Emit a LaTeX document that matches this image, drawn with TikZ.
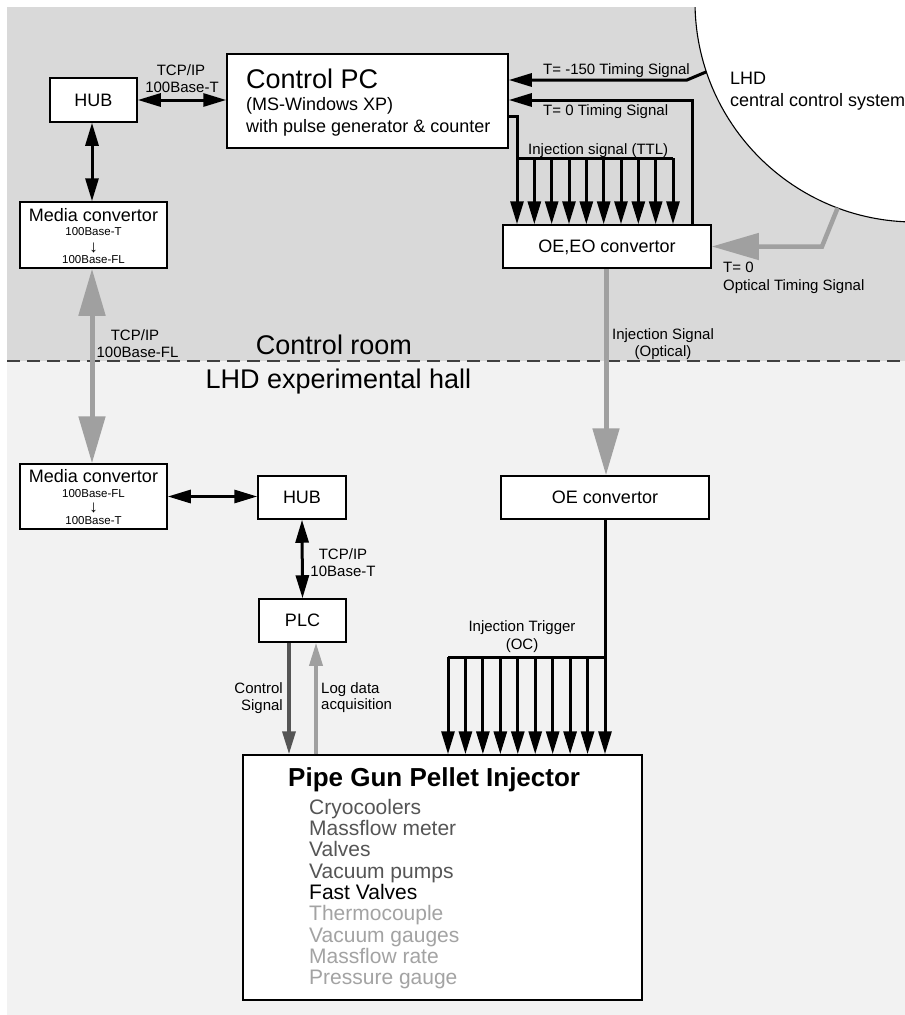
\documentclass[tikz,border=0pt]{standalone}
\usepackage{fontspec}
\setmainfont{Liberation Sans}
\usetikzlibrary{arrows.meta}
\definecolor{topbg}{HTML}{D9D9D9}
\definecolor{botbg}{HTML}{F2F2F2}
\definecolor{optgray}{HTML}{A0A0A0}
\definecolor{darkitem}{HTML}{555555}
\definecolor{lightitem}{HTML}{A3A3A3}
\definecolor{ctrlgray}{HTML}{555555}
\definecolor{dashcol}{HTML}{404040}
\newcommand{\myfs}[1]{\fontsize{#1}{#1}\selectfont}
\begin{document}
\begin{tikzpicture}[x=1pt,y=-1pt,
  box/.style={draw=black,line width=1.5pt,fill=white,inner sep=0pt,text depth=0pt,font=\myfs{18}},
  lbl/.style={inner sep=0pt,font=\myfs{15},anchor=base},
  lblw/.style={inner sep=0pt,font=\myfs{15},anchor=base west},
  lble/.style={inner sep=0pt,font=\myfs{15},anchor=base east},
  small/.style={inner sep=0pt,font=\myfs{11.5},anchor=base},
  darr/.style={inner sep=0pt,font=\myfs{17}},
  tipB/.tip={Triangle[length=23pt,width=13pt]},
  tipG/.tip={Triangle[length=47pt,width=26pt]},
  blk/.style={draw=black,line width=3pt},
  gry/.style={draw=optgray,line width=5pt},
]
\useasboundingbox (0,0) rectangle (905,1015);
% backgrounds
\fill[topbg] (7,7) rectangle (905,361);
\fill[botbg] (7,361) rectangle (905,1015);
\begin{scope}
  \clip (7,7) rectangle (905,361);
  \draw[fill=white,line width=1.1pt] (915,2) circle (220pt);
\end{scope}
\draw[dashcol,line width=1.3pt,dash pattern=on 13pt off 7pt] (7,361) -- (905,361);

% boxes
\node[box,minimum width=87pt,minimum height=44pt] (hub1) at (93.5,100) {HUB};
\node[box,minimum width=147pt,minimum height=66pt] (mc1) at (93.5,235) {};
\node[box,minimum width=281pt,minimum height=94pt] (pc) at (367.5,101) {};
\node[box,minimum width=208pt,minimum height=43pt] (oeeo) at (607,246.5) {OE,EO convertor};
\node[box,minimum width=208pt,minimum height=43pt] (oe) at (605,497.5) {OE convertor};
\node[box,minimum width=147pt,minimum height=65pt] (mc2) at (93.5,496.5) {};
\node[box,minimum width=88pt,minimum height=43pt] (hub2) at (302,497.5) {HUB};
\node[box,minimum width=87pt,minimum height=43pt] (plc) at (302.5,620.5) {PLC};
\node[box,minimum width=399pt,minimum height=245pt] (pipe) at (442.5,877.5) {};

% box texts
\node[anchor=base west,inner sep=0pt,font=\myfs{27}] (pct1) at (246,88.3) {Control PC};
\node[anchor=base west,inner sep=0pt,font=\myfs{18}] (pct2) at (246,110.7) {(MS-Windows XP)};
\node[anchor=base west,inner sep=0pt,font=\myfs{18}] (pct3) at (246,132.7) {with pulse generator \& counter};

\node[anchor=base,inner sep=0pt,font=\myfs{18}] (mc1a) at (93.5,221.5) {Media convertor};
\node[small] (mc1b) at (93.5,235.5) {100Base-T};
\node[darr] (mc1c) at (93.5,247.5) {↓};
\node[small] (mc1d) at (93.5,263) {100Base-FL};

\node[anchor=base,inner sep=0pt,font=\myfs{18}] (mc2a) at (93.5,482.5) {Media convertor};
\node[small] (mc2b) at (93.5,497) {100Base-FL};
\node[darr] (mc2c) at (93.5,508) {↓};
\node[small] (mc2d) at (93.5,524.5) {100Base-T};

\node[anchor=base west,inner sep=0pt,font=\myfs{26}\bfseries] (pgt) at (288,786.7) {Pipe Gun Pellet Injector};
\foreach \t/\c [count=\i from 0] in {Cryocoolers/darkitem,Massflow meter/darkitem,Valves/darkitem,Vacuum pumps/darkitem,Fast Valves/black,Thermocouple/lightitem,Vacuum gauges/lightitem,Massflow rate/lightitem,Pressure gauge/lightitem}
  \node[anchor=base west,inner sep=0pt,font=\myfs{21},text=\c] (item\i) at (309,{814.3+\i*21.3}) {\t};

% central control system
\node[anchor=base west,inner sep=0pt,font=\myfs{18}] (lhd1) at (730,84) {LHD};
\node[anchor=base west,inner sep=0pt,font=\myfs{18}] (lhd2) at (730,106) {central control system};

% region labels
\node[anchor=base,inner sep=0pt,font=\myfs{27}] (room) at (334,354.5) {Control room};
\node[anchor=base,inner sep=0pt,font=\myfs{27}] (hall) at (338.5,388.5) {LHD experimental hall};

% connector labels
\node[lbl] (l1a) at (181,75.4) {TCP/IP};
\node[lbl] (l1b) at (182,92.4) {100Base-T};
\node[lbl] (l2a) at (135,340.4) {TCP/IP};
\node[lbl] (l2b) at (137.5,357.4) {100Base-FL};
\node[lblw] (l3) at (528,154.4) {Injection signal (TTL)};
\node[lblw] (l4) at (543,74.4) {T= -150 Timing Signal};
\node[lblw] (l5) at (543,115.4) {T= 0 Timing Signal};
\node[lblw] (l6a) at (723,272.4) {T= 0};
\node[lblw] (l6b) at (723,290.4) {Optical Timing Signal};
\node[lbl] (l7a) at (663,339.4) {Injection Signal};
\node[lbl] (l7b) at (663,356) {(Optical)};
\node[lbl] (l8a) at (343,559.4) {TCP/IP};
\node[lbl] (l8b) at (343,576.4) {10Base-T};
\node[lble] (l9a) at (283,693.4) {Control};
\node[lble] (l9b) at (283,710) {Signal};
\node[lblw] (l10a) at (321,693.4) {Log data};
\node[lblw] (l10b) at (321,709) {acquisition};
\node[lbl] (l11a) at (522,631.4) {Injection Trigger};
\node[lbl] (l11b) at (522,649) {(OC)};

% coordinates
\coordinate (circA) at (706.4,71.8);
\coordinate (b150) at (687,80);
\coordinate (t0x) at (692,100);
\coordinate (ttl) at (517,116);
\coordinate (circB) at (837.6,208);
\coordinate (optbend) at (822,246.5);
\coordinate (trig) at (605,657);
\coordinate (csx) at (289,700);
\coordinate (ldx) at (316,700);

% network connectors
\draw[blk,tipB-tipB] (hub1.east) -- (hub1.east -| pc.west);
\draw[blk,tipB-tipB] (hub1.south -| 92,0) -- (mc1.north -| 92,0);
\draw[gry,tipG-tipG] (mc1.south -| 92,0) -- (mc2.north -| 92,0);
\draw[blk,tipB-tipB] (mc2.east) -- (mc2.east -| hub2.west);
\draw[blk,tipB-tipB] (hub2.south) -- (plc.north);
\draw[ctrlgray,line width=3.5pt,-tipB] (csx |- plc.south) -- (csx |- pipe.north);
\draw[optgray,line width=3.5pt,-tipB] (ldx |- pipe.north) -- (ldx |- plc.south);

% timing signals
\draw[blk,-tipB] (circA) -- (b150) -- (b150 -| pc.east);
\draw[blk,-tipB] (t0x |- oeeo.north) -- (t0x) -- (t0x -| pc.east);
\draw[gry,line width=4.5pt,-tipG] (circB) -- (optbend) -- (oeeo.east);

% injection signal TTL
\draw[blk,-tipB] (ttl -| pc.east) -- (ttl) -- (ttl |- oeeo.north);
\draw[blk] (517,158) -- (673,158);
\foreach \i in {1,...,9} {
  \coordinate (d\i) at ({517+\i*17.333},158);
  \draw[blk,-tipB] (d\i) -- (d\i |- oeeo.north);
}

% optical injection signal
\draw[gry,-tipG] (oeeo.south -| 606,0) -- (oe.north -| 606,0);

% injection trigger
\draw[blk,-tipB] (oe.south) -- (oe.south |- pipe.north);
\draw[blk] (trig) -- (448,657);
\foreach \i in {0,...,8} {
  \coordinate (e\i) at ({448+\i*17.444},657);
  \draw[blk,-tipB] (e\i) -- (e\i |- pipe.north);
}
\end{tikzpicture}
\end{document}
